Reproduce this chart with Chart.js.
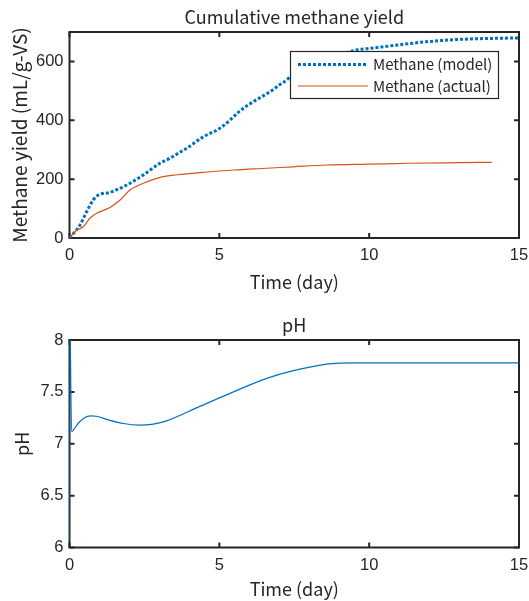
<!DOCTYPE html>
<html>
<head>
<meta charset="utf-8">
<script src="https://cdn.jsdelivr.net/npm/chart.js@4.4.1/dist/chart.umd.min.js"></script>
<style>
  html, body { margin: 0; padding: 0; background: #fff; }
  #wrap { position: relative; width: 529px; height: 601px; overflow: hidden; }
  canvas { position: absolute; left: 0; }
  #yieldChart { top: 0; }
  #phChart { top: 300px; }
</style>
</head>
<body>
<div id="wrap">
  <canvas id="yieldChart" width="529" height="300"></canvas>
  <canvas id="phChart" width="529" height="301"></canvas>
</div>
<script>
// Tick positions
const timeTicks = [0, 5, 10, 15];
const yieldTicks = [0, 200, 400, 600];
const phTicks = [6, 6.5, 7, 7.5, 8];

// Cumulative methane yield, model (mL/g-VS)
const modelDays  = [0, 0.35, 0.57, 0.79, 0.96, 1.35, 1.91, 2.46, 3.02, 3.35, 3.63, 3.91, 4.47, 5.02, 5.36, 5.69, 6.13, 6.69, 7.0, 7.25, 7.36, 8.0, 8.5, 9.0, 9.58, 10.0, 10.8, 11.92, 13.03, 14.0, 15.0];
const modelYield = [0, 44, 89, 129, 146, 155, 180, 214, 254, 271, 288, 305, 344, 373, 401, 432, 463, 497, 520, 537, 548, 580, 602, 622, 639, 644, 654, 667, 675, 678, 680];

// Cumulative methane yield, measured (mL/g-VS)
const actualDays  = [0, 0.24, 0.46, 0.68, 0.91, 1.35, 1.69, 2.02, 2.46, 3.05, 3.6, 4.35, 5.47, 6.58, 7.47, 8.58, 10.03, 11.36, 13.03, 14.09];
const actualYield = [0, 27, 38, 67, 84, 104, 129, 163, 186, 207, 215, 222, 231, 237, 242, 248, 251, 254, 256, 257];

// pH, model
const phDays   = [0, 0.003, 0.07, 0.15, 0.3, 0.5, 0.7, 0.9, 1.3, 1.8, 2.35, 2.8, 3.24, 4.35, 5.47, 6.58, 7.47, 8.58, 9.03, 9.5, 10, 12, 15];
const phValues = [6.07, 8.4, 7.117, 7.14, 7.2, 7.25, 7.268, 7.265, 7.23, 7.195, 7.18, 7.19, 7.22, 7.36, 7.5, 7.63, 7.705, 7.768, 7.778, 7.78, 7.78, 7.78, 7.78];

const INK = '#262626';
const BLUE = '#0072BD';
const ORANGE = '#D95319';
const LABEL_FONT = '"Noto Sans CJK JP", "Noto Sans", sans-serif';
const TICK_FONT = '"Liberation Sans", Arial, sans-serif';

const toPoints = (xs, ys) => xs.map((x, i) => ({ x, y: ys[i] }));

// Box with inward ticks on all four sides (under the data),
// then the axes title and an optional boxed legend (over the data)
const boxedAxes = {
  id: 'boxedAxes',
  beforeDatasetsDraw(chart) {
    const { ctx, chartArea: a, scales } = chart;
    const len = 5;
    ctx.save();
    ctx.strokeStyle = INK;
    ctx.lineWidth = 2;
    ctx.beginPath();
    scales.x.ticks.forEach((t, i) => {
      const px = scales.x.getPixelForTick(i);
      ctx.moveTo(px, a.bottom); ctx.lineTo(px, a.bottom - len);
      ctx.moveTo(px, a.top); ctx.lineTo(px, a.top + len);
    });
    scales.y.ticks.forEach((t, i) => {
      const py = scales.y.getPixelForTick(i);
      ctx.moveTo(a.left, py); ctx.lineTo(a.left + len, py);
      ctx.moveTo(a.right, py); ctx.lineTo(a.right - len, py);
    });
    ctx.stroke();
    ctx.strokeRect(a.left, a.top, a.right - a.left, a.bottom - a.top);
    ctx.restore();
  },
  afterDatasetsDraw(chart, args, opts) {
    const { ctx, chartArea: a } = chart;
    ctx.save();
    ctx.fillStyle = INK;
    ctx.font = '18px ' + LABEL_FONT;
    ctx.textAlign = 'center';
    ctx.textBaseline = 'alphabetic';
    ctx.fillText(opts.title, (a.left + a.right) / 2, a.top - 8);

    if (opts.legend) {
      const bx = a.right - 228.5, by = a.top + 19.5, bw = 208, bh = 47;
      ctx.fillStyle = '#fff';
      ctx.fillRect(bx, by, bw, bh);
      ctx.lineWidth = 1.2;
      ctx.strokeStyle = INK;
      ctx.strokeRect(bx, by, bw, bh);
      const rows = [13, 34.5];
      chart.data.datasets.forEach((ds, i) => {
        const y = by + rows[i];
        ctx.save();
        ctx.strokeStyle = ds.borderColor;
        ctx.lineWidth = ds.borderWidth;
        ctx.setLineDash(ds.borderDash || []);
        ctx.beginPath();
        ctx.moveTo(bx + 7.5, y);
        ctx.lineTo(bx + 77.5, y);
        ctx.stroke();
        ctx.restore();
        ctx.fillStyle = INK;
        ctx.font = '15px ' + LABEL_FONT;
        ctx.textAlign = 'left';
        ctx.textBaseline = 'middle';
        ctx.fillText(ds.label, bx + 82.5, y);
      });
    }
    ctx.restore();
  }
};

function axesOptions(cfg) {
  return {
    responsive: false,
    animation: false,
    events: [],
    layout: { padding: { left: 0, right: 10, top: cfg.top, bottom: 0 } },
    plugins: {
      legend: { display: false },
      title: { display: false },
      tooltip: { enabled: false },
      boxedAxes: { title: cfg.title, legend: cfg.legend }
    },
    scales: {
      x: {
        type: 'linear',
        min: 0, max: 15,
        afterBuildTicks: s => { s.ticks = timeTicks.map(v => ({ value: v })); },
        afterFit: s => { s.height = cfg.xHeight; s.paddingLeft = 0; s.paddingRight = 0; },
        grid: { display: false, drawTicks: false },
        border: { display: false },
        ticks: { color: INK, font: { family: TICK_FONT, size: 16.5 }, padding: 8, maxRotation: 0, autoSkip: false },
        title: { display: true, text: 'Time (day)', color: INK, font: { family: LABEL_FONT, size: 18, lineHeight: 1.2 }, padding: { top: 0, bottom: cfg.xTitlePad } }
      },
      y: {
        type: 'linear',
        min: cfg.yMin, max: cfg.yMax,
        afterBuildTicks: s => { s.ticks = cfg.yTicks.map(v => ({ value: v })); },
        afterFit: s => { s.width = 69.5; s.paddingTop = 0; s.paddingBottom = 0; },
        grid: { display: false, drawTicks: false },
        border: { display: false },
        ticks: { color: INK, font: { family: TICK_FONT, size: 16.5 }, padding: 6, autoSkip: false, callback: v => String(v) },
        title: { display: true, text: cfg.yTitle, color: INK, font: { family: LABEL_FONT, size: cfg.yTitleSize, lineHeight: 1.2 }, padding: { top: cfg.yTitlePad, bottom: 0 } }
      }
    }
  };
}

new Chart(document.getElementById('yieldChart'), {
  type: 'line',
  data: {
    datasets: [
      {
        label: 'Methane (model)',
        data: toPoints(modelDays, modelYield),
        borderColor: BLUE, borderWidth: 3, borderDash: [3, 2], borderCapStyle: 'butt',
        pointRadius: 0, fill: false, cubicInterpolationMode: 'monotone', order: 1
      },
      {
        label: 'Methane (actual)',
        data: toPoints(actualDays, actualYield),
        borderColor: ORANGE, borderWidth: 1.2,
        pointRadius: 0, fill: false, cubicInterpolationMode: 'monotone', order: 0
      }
    ]
  },
  options: axesOptions({
    top: 32, xHeight: 62, xTitlePad: 7,
    yMin: 0, yMax: 700, yTicks: yieldTicks,
    yTitle: 'Methane yield (mL/g-VS)', yTitlePad: 8.5, yTitleSize: 19,
    title: 'Cumulative methane yield', legend: true
  }),
  plugins: [boxedAxes]
});

new Chart(document.getElementById('phChart'), {
  type: 'line',
  data: {
    datasets: [
      {
        label: 'pH',
        data: toPoints(phDays, phValues),
        borderColor: BLUE, borderWidth: 1.2,
        pointRadius: 0, fill: false, cubicInterpolationMode: 'monotone'
      }
    ]
  },
  options: axesOptions({
    top: 40, xHeight: 53.5, xTitlePad: 1,
    yMin: 6, yMax: 8, yTicks: phTicks,
    yTitle: 'pH', yTitlePad: 11, yTitleSize: 18,
    title: 'pH', legend: false
  }),
  plugins: [boxedAxes]
});
</script>
</body>
</html>
